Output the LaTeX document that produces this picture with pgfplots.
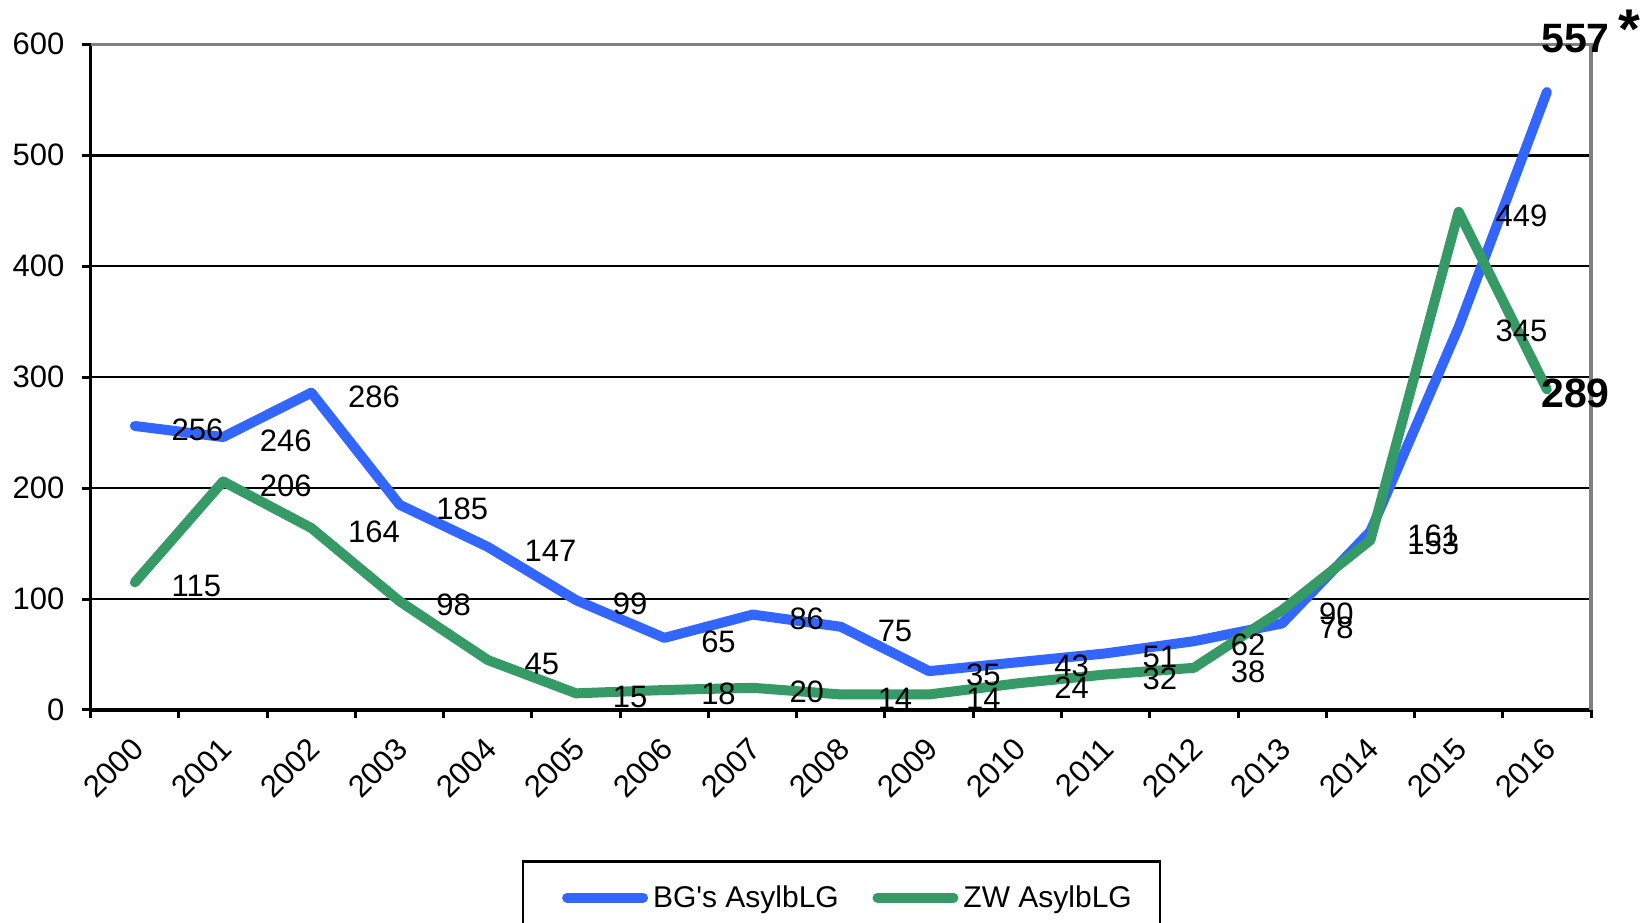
\documentclass[border=0pt]{standalone}
\usepackage{pgfplots}
\pgfplotsset{compat=1.18}
\usepackage{pgfplotstable}
\usepackage{fontspec}
\setmainfont{Liberation Sans}
\definecolor{bgblue}{RGB}{51,102,255}
\definecolor{zwgreen}{RGB}{53,154,102}
\definecolor{bordergray}{RGB}{128,128,128}

\pgfplotstableread{
x bg zw
0 256 115
1 246 206
2 286 164
3 185 98
4 147 45
5 99 15
6 65 18
7 86 20
8 75 14
9 35 14
10 43 24
11 51 32
12 62 38
13 78 90
14 161 153
15 345 449
16 557 289
}\datatable

\begin{document}
\begin{tikzpicture}
\begin{axis}[
  scale only axis, width=750.15pt, height=332.85pt,
  xmin=-0.5, xmax=16.5, ymin=0, ymax=600,
  axis x line=bottom, axis y line=left,
  axis line style={line width=1.6pt, -},
  xtick={0,...,16},
  xticklabels={2000,2001,2002,2003,2004,2005,2006,2007,2008,2009,2010,2011,2012,2013,2014,2015,2016},
  major x tick style={draw=none},
  minor xtick={-0.5,0.5,...,16.5},
  minor x tick style={black, line width=1.5pt},
  minor tick length=4pt,
  ytick={0,100,...,600},
  major tick length=4.5pt,
  ytick style={black, line width=1.5pt},
  tick align=outside,
  ymajorgrids,
  major grid style={black, line width=1.3pt},
  /pgf/number format/assume math mode=true,
  tick label style={font=\fontsize{15.5}{18}\selectfont},
  xticklabel style={inner sep=0pt, xshift=1.6pt, yshift=-12.1pt, rotate=45, anchor=east},
  yticklabel style={inner sep=0pt, anchor=east, xshift=-8.5pt},
  clip=false,
  legend columns=2,
  legend style={at={(0.5004,-0.2253)}, anchor=north, draw=black, line width=1.3pt,
    inner xsep=17pt, inner ysep=12pt, font=\fontsize{15}{17}\selectfont,
    nodes={inner sep=0pt},
    /tikz/every even column/.append style={column sep=14.3pt},
    /tikz/every odd column/.append style={column sep=0pt}},
  legend image code/.code={\draw[#1, line width=5pt, line cap=round] (2.5pt,0pt) -- (40.5pt,0pt); \path (0pt,0pt) (43pt,0pt);},
]
\addplot[bgblue, line width=5pt, line cap=round, line join=round] table[x=x, y=bg] {\datatable};
\addlegendentry{BG\textquotesingle s AsylbLG}
\addplot[zwgreen, line width=5pt, line cap=round, line join=round] table[x=x, y=zw] {\datatable};
\addlegendentry{ZW AsylbLG\hspace*{-3pt}}

% data labels 2000-2015
\addplot[draw=none, forget plot, restrict x to domain=0:15, nodes near coords, point meta=explicit,
  nodes near coords style={anchor=west, inner sep=0pt, xshift=18.25pt, yshift=-2pt, font=\fontsize{15.5}{18}\selectfont, text=black}]
  table[x=x, y=bg, meta=bg] {\datatable};
\addplot[draw=none, forget plot, restrict x to domain=0:15, nodes near coords, point meta=explicit,
  nodes near coords style={anchor=west, inner sep=0pt, xshift=18.25pt, yshift=-2pt, font=\fontsize{15.5}{18}\selectfont, text=black}]
  table[x=x, y=zw, meta=zw] {\datatable};
% bold labels 2016
\addplot[draw=none, forget plot, restrict x to domain=16:16, nodes near coords, point meta=explicit,
  nodes near coords style={anchor=west, inner sep=0pt, xshift=-3pt, yshift=26.5pt, font=\bfseries\fontsize{20.5}{24}\selectfont, text=black}]
  table[x=x, y=bg, meta=bg] {\datatable};
\addplot[draw=none, forget plot, restrict x to domain=16:16, nodes near coords, point meta=explicit,
  nodes near coords style={anchor=west, inner sep=0pt, xshift=-3pt, yshift=-1.8pt, font=\bfseries\fontsize{20.5}{24}\selectfont, text=black}]
  table[x=x, y=zw, meta=zw] {\datatable};
\node[anchor=north, inner sep=0pt, font=\bfseries\fontsize{28}{30}\selectfont] at (axis cs:16,557) [xshift=41.5pt, yshift=41pt] {*};

\draw[bordergray, line width=1.6pt] (rel axis cs:0,1) -- (rel axis cs:1,1) -- (rel axis cs:1,0);
\coordinate (bl) at (rel axis cs:0,0);
\coordinate (tr) at (rel axis cs:1,1);
\end{axis}
\pgfresetboundingbox
\path[use as bounding box] ([xshift=-45.35pt,yshift=-106.5pt]bl) rectangle ([xshift=28.5pt,yshift=22.15pt]tr);
\end{tikzpicture}
\end{document}
